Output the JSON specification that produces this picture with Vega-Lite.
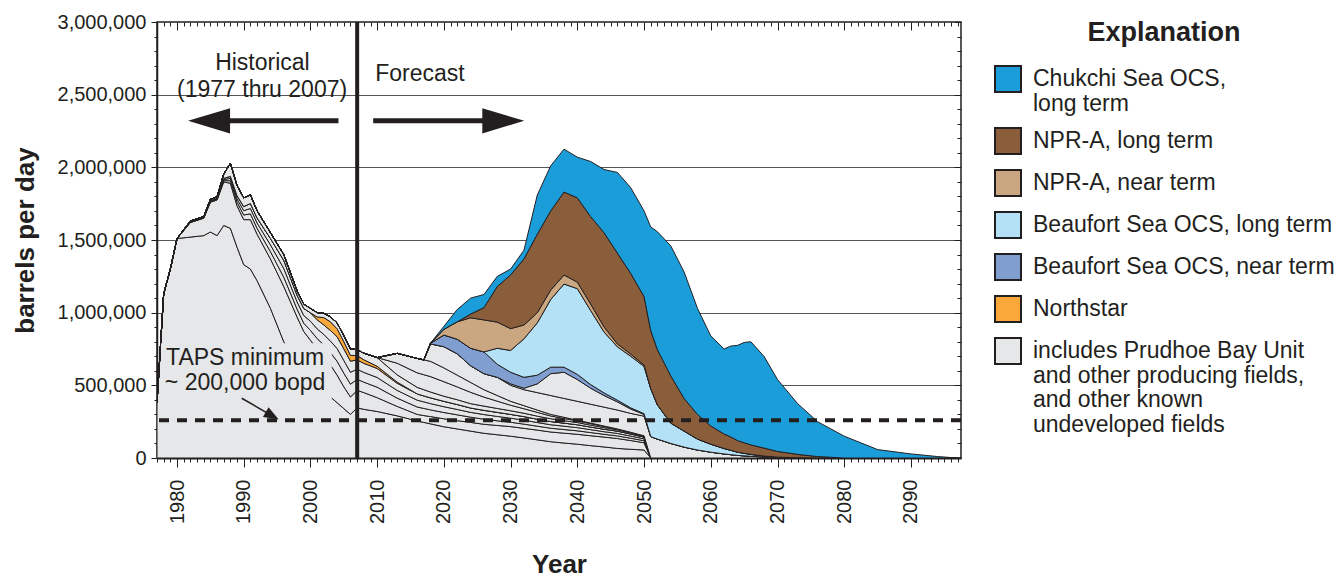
{
  "$schema": "https://vega.github.io/schema/vega-lite/v6.json",
  "width": 804,
  "height": 436,
  "autosize": {"type": "none"},
  "padding": {"left": 157, "top": 22, "right": 382, "bottom": 122},
  "background": "white",
  "config": {
    "view": {"stroke": "#231f20", "strokeWidth": 1.5},
    "font": "Liberation Sans",
    "axis": {"labelFont": "Liberation Sans", "titleFont": "Liberation Sans", "labelColor": "#231f20", "titleColor": "#231f20", "tickColor": "#231f20", "domainColor": "#231f20"}
  },
  "datasets": {
    "meta": [
      {"s": "pbu", "cat": "includes Prudhoe Bay Unit and other producing fields, and other known undeveloped fields", "ord": 1},
      {"s": "kup", "cat": "includes Prudhoe Bay Unit and other producing fields, and other known undeveloped fields", "ord": 2},
      {"s": "b1", "cat": "includes Prudhoe Bay Unit and other producing fields, and other known undeveloped fields", "ord": 3},
      {"s": "b2", "cat": "includes Prudhoe Bay Unit and other producing fields, and other known undeveloped fields", "ord": 4},
      {"s": "b3", "cat": "includes Prudhoe Bay Unit and other producing fields, and other known undeveloped fields", "ord": 5},
      {"s": "ns", "cat": "Northstar", "ord": 6},
      {"s": "f6", "cat": "includes Prudhoe Bay Unit and other producing fields, and other known undeveloped fields", "ord": 7},
      {"s": "n1", "cat": "includes Prudhoe Bay Unit and other producing fields, and other known undeveloped fields", "ord": 8},
      {"s": "n2", "cat": "includes Prudhoe Bay Unit and other producing fields, and other known undeveloped fields", "ord": 9},
      {"s": "u1", "cat": "includes Prudhoe Bay Unit and other producing fields, and other known undeveloped fields", "ord": 10},
      {"s": "u2", "cat": "includes Prudhoe Bay Unit and other producing fields, and other known undeveloped fields", "ord": 11},
      {"s": "bn", "cat": "Beaufort Sea OCS, near term", "ord": 12},
      {"s": "bl", "cat": "Beaufort Sea OCS, long term", "ord": 13},
      {"s": "nn", "cat": "NPR-A, near term", "ord": 14},
      {"s": "nl", "cat": "NPR-A, long term", "ord": 15},
      {"s": "cs", "cat": "Chukchi Sea OCS, long term", "ord": 16}
    ],
    "prod": [
      {"yr":1977,"s":"pbu","bpd":380000},{"yr":1978,"s":"pbu","bpd":1130000},{"yr":1979,"s":"pbu","bpd":1300000},{"yr":1980,"s":"pbu","bpd":1510000},{"yr":1982,"s":"pbu","bpd":1520000},{"yr":1984,"s":"pbu","bpd":1530000},{"yr":1985,"s":"pbu","bpd":1555000},{"yr":1986,"s":"pbu","bpd":1530000},{"yr":1987,"s":"pbu","bpd":1600000},{"yr":1988,"s":"pbu","bpd":1580000},{"yr":1989,"s":"pbu","bpd":1450000},{"yr":1990,"s":"pbu","bpd":1330000},{"yr":1991,"s":"pbu","bpd":1300000},{"yr":1992,"s":"pbu","bpd":1220000},{"yr":1994,"s":"pbu","bpd":1030000},{"yr":1996,"s":"pbu","bpd":800000},{"yr":1998,"s":"pbu","bpd":640000},{"yr":1999,"s":"pbu","bpd":570000},{"yr":2000,"s":"pbu","bpd":520000},{"yr":2001,"s":"pbu","bpd":480000},{"yr":2002,"s":"pbu","bpd":450000},{"yr":2003,"s":"pbu","bpd":420000},{"yr":2004,"s":"pbu","bpd":380000},{"yr":2005,"s":"pbu","bpd":340000},{"yr":2006,"s":"pbu","bpd":300000},{"yr":2007,"s":"pbu","bpd":345000},{"yr":2008,"s":"pbu","bpd":335000},{"yr":2010,"s":"pbu","bpd":320000},{"yr":2013,"s":"pbu","bpd":290000},{"yr":2016,"s":"pbu","bpd":255000},{"yr":2017,"s":"pbu","bpd":245000},{"yr":2018,"s":"pbu","bpd":235000},{"yr":2020,"s":"pbu","bpd":215000},{"yr":2022,"s":"pbu","bpd":200000},{"yr":2024,"s":"pbu","bpd":185000},{"yr":2026,"s":"pbu","bpd":170000},{"yr":2028,"s":"pbu","bpd":160000},{"yr":2030,"s":"pbu","bpd":150000},{"yr":2032,"s":"pbu","bpd":138000},{"yr":2034,"s":"pbu","bpd":125000},{"yr":2036,"s":"pbu","bpd":112000},{"yr":2038,"s":"pbu","bpd":103000},{"yr":2040,"s":"pbu","bpd":95000},{"yr":2042,"s":"pbu","bpd":85000},{"yr":2044,"s":"pbu","bpd":76000},{"yr":2046,"s":"pbu","bpd":66000},{"yr":2048,"s":"pbu","bpd":60000},{"yr":2050,"s":"pbu","bpd":55000},

      {"yr":1982,"s":"kup","bpd":100000},{"yr":1984,"s":"kup","bpd":120000},{"yr":1985,"s":"kup","bpd":205000},{"yr":1986,"s":"kup","bpd":245000},{"yr":1987,"s":"kup","bpd":300000},{"yr":1988,"s":"kup","bpd":310000},{"yr":1989,"s":"kup","bpd":285000},{"yr":1990,"s":"kup","bpd":310000},{"yr":1991,"s":"kup","bpd":340000},{"yr":1992,"s":"kup","bpd":320000},{"yr":1994,"s":"kup","bpd":340000},{"yr":1996,"s":"kup","bpd":380000},{"yr":1998,"s":"kup","bpd":330000},{"yr":1999,"s":"kup","bpd":300000},{"yr":2000,"s":"kup","bpd":290000},{"yr":2001,"s":"kup","bpd":270000},{"yr":2002,"s":"kup","bpd":250000},{"yr":2003,"s":"kup","bpd":220000},{"yr":2004,"s":"kup","bpd":190000},{"yr":2005,"s":"kup","bpd":150000},{"yr":2006,"s":"kup","bpd":120000},{"yr":2007,"s":"kup","bpd":120000},{"yr":2008,"s":"kup","bpd":115000},{"yr":2010,"s":"kup","bpd":95000},{"yr":2013,"s":"kup","bpd":65000},{"yr":2016,"s":"kup","bpd":45000},{"yr":2017,"s":"kup","bpd":47000},{"yr":2018,"s":"kup","bpd":50000},{"yr":2020,"s":"kup","bpd":55000},{"yr":2022,"s":"kup","bpd":57000},{"yr":2024,"s":"kup","bpd":60000},{"yr":2026,"s":"kup","bpd":62000},{"yr":2028,"s":"kup","bpd":64000},{"yr":2030,"s":"kup","bpd":66000},{"yr":2032,"s":"kup","bpd":66000},{"yr":2034,"s":"kup","bpd":67000},{"yr":2036,"s":"kup","bpd":67000},{"yr":2038,"s":"kup","bpd":68000},{"yr":2040,"s":"kup","bpd":68000},{"yr":2042,"s":"kup","bpd":68000},{"yr":2044,"s":"kup","bpd":68000},{"yr":2046,"s":"kup","bpd":68000},{"yr":2048,"s":"kup","bpd":60000},{"yr":2050,"s":"kup","bpd":50000},

      {"yr":1982,"s":"b1","bpd":2000},{"yr":1984,"s":"b1","bpd":2000},{"yr":1985,"s":"b1","bpd":4000},{"yr":1986,"s":"b1","bpd":4000},{"yr":1987,"s":"b1","bpd":8000},{"yr":1988,"s":"b1","bpd":18000},{"yr":1989,"s":"b1","bpd":25000},{"yr":1990,"s":"b1","bpd":32000},{"yr":1991,"s":"b1","bpd":40000},{"yr":1992,"s":"b1","bpd":40000},{"yr":1994,"s":"b1","bpd":50000},{"yr":1996,"s":"b1","bpd":64000},{"yr":1998,"s":"b1","bpd":54000},{"yr":1999,"s":"b1","bpd":57000},{"yr":2000,"s":"b1","bpd":68000},{"yr":2001,"s":"b1","bpd":72000},{"yr":2002,"s":"b1","bpd":78000},{"yr":2003,"s":"b1","bpd":85000},{"yr":2004,"s":"b1","bpd":95000},{"yr":2005,"s":"b1","bpd":94000},{"yr":2006,"s":"b1","bpd":88000},{"yr":2007,"s":"b1","bpd":76000},{"yr":2008,"s":"b1","bpd":72000},{"yr":2010,"s":"b1","bpd":72000},{"yr":2013,"s":"b1","bpd":57000},{"yr":2016,"s":"b1","bpd":51000},{"yr":2017,"s":"b1","bpd":49000},{"yr":2018,"s":"b1","bpd":46000},{"yr":2020,"s":"b1","bpd":43000},{"yr":2022,"s":"b1","bpd":40000},{"yr":2024,"s":"b1","bpd":36000},{"yr":2026,"s":"b1","bpd":35000},{"yr":2028,"s":"b1","bpd":32000},{"yr":2030,"s":"b1","bpd":30000},{"yr":2032,"s":"b1","bpd":29000},{"yr":2034,"s":"b1","bpd":27000},{"yr":2036,"s":"b1","bpd":26000},{"yr":2038,"s":"b1","bpd":25000},{"yr":2040,"s":"b1","bpd":24000},{"yr":2042,"s":"b1","bpd":22000},{"yr":2044,"s":"b1","bpd":19000},{"yr":2046,"s":"b1","bpd":18000},{"yr":2048,"s":"b1","bpd":16000},{"yr":2050,"s":"b1","bpd":14000},

      {"yr":1982,"s":"b2","bpd":2000},{"yr":1984,"s":"b2","bpd":2000},{"yr":1985,"s":"b2","bpd":4000},{"yr":1986,"s":"b2","bpd":4000},{"yr":1987,"s":"b2","bpd":8000},{"yr":1988,"s":"b2","bpd":16000},{"yr":1989,"s":"b2","bpd":23000},{"yr":1990,"s":"b2","bpd":30000},{"yr":1991,"s":"b2","bpd":37000},{"yr":1992,"s":"b2","bpd":37000},{"yr":1994,"s":"b2","bpd":47000},{"yr":1996,"s":"b2","bpd":60000},{"yr":1998,"s":"b2","bpd":50000},{"yr":1999,"s":"b2","bpd":53000},{"yr":2000,"s":"b2","bpd":63000},{"yr":2001,"s":"b2","bpd":67000},{"yr":2002,"s":"b2","bpd":72000},{"yr":2003,"s":"b2","bpd":79000},{"yr":2004,"s":"b2","bpd":88000},{"yr":2005,"s":"b2","bpd":87000},{"yr":2006,"s":"b2","bpd":82000},{"yr":2007,"s":"b2","bpd":70000},{"yr":2008,"s":"b2","bpd":67000},{"yr":2010,"s":"b2","bpd":67000},{"yr":2013,"s":"b2","bpd":53000},{"yr":2016,"s":"b2","bpd":47000},{"yr":2017,"s":"b2","bpd":45000},{"yr":2018,"s":"b2","bpd":43000},{"yr":2020,"s":"b2","bpd":40000},{"yr":2022,"s":"b2","bpd":37000},{"yr":2024,"s":"b2","bpd":33000},{"yr":2026,"s":"b2","bpd":32000},{"yr":2028,"s":"b2","bpd":30000},{"yr":2030,"s":"b2","bpd":28000},{"yr":2032,"s":"b2","bpd":27000},{"yr":2034,"s":"b2","bpd":25000},{"yr":2036,"s":"b2","bpd":24000},{"yr":2038,"s":"b2","bpd":23000},{"yr":2040,"s":"b2","bpd":22000},{"yr":2042,"s":"b2","bpd":20000},{"yr":2044,"s":"b2","bpd":18000},{"yr":2046,"s":"b2","bpd":17000},{"yr":2048,"s":"b2","bpd":15000},{"yr":2050,"s":"b2","bpd":13000},

      {"yr":1982,"s":"b3","bpd":2000},{"yr":1984,"s":"b3","bpd":2000},{"yr":1985,"s":"b3","bpd":4000},{"yr":1986,"s":"b3","bpd":4000},{"yr":1987,"s":"b3","bpd":8000},{"yr":1988,"s":"b3","bpd":14000},{"yr":1989,"s":"b3","bpd":21000},{"yr":1990,"s":"b3","bpd":28000},{"yr":1991,"s":"b3","bpd":34000},{"yr":1992,"s":"b3","bpd":34000},{"yr":1994,"s":"b3","bpd":44000},{"yr":1996,"s":"b3","bpd":56000},{"yr":1998,"s":"b3","bpd":46000},{"yr":1999,"s":"b3","bpd":49000},{"yr":2000,"s":"b3","bpd":58000},{"yr":2001,"s":"b3","bpd":62000},{"yr":2002,"s":"b3","bpd":66000},{"yr":2003,"s":"b3","bpd":73000},{"yr":2004,"s":"b3","bpd":81000},{"yr":2005,"s":"b3","bpd":80000},{"yr":2006,"s":"b3","bpd":76000},{"yr":2007,"s":"b3","bpd":64000},{"yr":2008,"s":"b3","bpd":62000},{"yr":2010,"s":"b3","bpd":62000},{"yr":2013,"s":"b3","bpd":49000},{"yr":2016,"s":"b3","bpd":43000},{"yr":2017,"s":"b3","bpd":41000},{"yr":2018,"s":"b3","bpd":40000},{"yr":2020,"s":"b3","bpd":37000},{"yr":2022,"s":"b3","bpd":34000},{"yr":2024,"s":"b3","bpd":30000},{"yr":2026,"s":"b3","bpd":29000},{"yr":2028,"s":"b3","bpd":28000},{"yr":2030,"s":"b3","bpd":26000},{"yr":2032,"s":"b3","bpd":25000},{"yr":2034,"s":"b3","bpd":23000},{"yr":2036,"s":"b3","bpd":22000},{"yr":2038,"s":"b3","bpd":21000},{"yr":2040,"s":"b3","bpd":20000},{"yr":2042,"s":"b3","bpd":18000},{"yr":2044,"s":"b3","bpd":17000},{"yr":2046,"s":"b3","bpd":16000},{"yr":2048,"s":"b3","bpd":14000},{"yr":2050,"s":"b3","bpd":12000},

      {"yr":2001,"s":"ns","bpd":20000},{"yr":2002,"s":"ns","bpd":50000},{"yr":2003,"s":"ns","bpd":60000},{"yr":2004,"s":"ns","bpd":55000},{"yr":2005,"s":"ns","bpd":50000},{"yr":2006,"s":"ns","bpd":40000},{"yr":2007,"s":"ns","bpd":30000},{"yr":2008,"s":"ns","bpd":25000},{"yr":2010,"s":"ns","bpd":15000},{"yr":2013,"s":"ns","bpd":8000},

      {"yr":1982,"s":"f6","bpd":5000},{"yr":1984,"s":"f6","bpd":5000},{"yr":1985,"s":"f6","bpd":8000},{"yr":1986,"s":"f6","bpd":10000},{"yr":1987,"s":"f6","bpd":30000},{"yr":1988,"s":"f6","bpd":90000},{"yr":1989,"s":"f6","bpd":70000},{"yr":1990,"s":"f6","bpd":60000},{"yr":1991,"s":"f6","bpd":60000},{"yr":1992,"s":"f6","bpd":50000},{"yr":1994,"s":"f6","bpd":40000},{"yr":1996,"s":"f6","bpd":40000},{"yr":1998,"s":"f6","bpd":30000},{"yr":1999,"s":"f6","bpd":30000},{"yr":2000,"s":"f6","bpd":30000},{"yr":2001,"s":"f6","bpd":30000},{"yr":2002,"s":"f6","bpd":30000},{"yr":2003,"s":"f6","bpd":35000},{"yr":2004,"s":"f6","bpd":40000},{"yr":2005,"s":"f6","bpd":40000},{"yr":2006,"s":"f6","bpd":45000},{"yr":2007,"s":"f6","bpd":40000},{"yr":2008,"s":"f6","bpd":45000},{"yr":2010,"s":"f6","bpd":60000},{"yr":2013,"s":"f6","bpd":50000},{"yr":2016,"s":"f6","bpd":45000},{"yr":2017,"s":"f6","bpd":43000},{"yr":2018,"s":"f6","bpd":40000},{"yr":2020,"s":"f6","bpd":35000},{"yr":2022,"s":"f6","bpd":33000},{"yr":2024,"s":"f6","bpd":30000},{"yr":2026,"s":"f6","bpd":29000},{"yr":2028,"s":"f6","bpd":27000},{"yr":2030,"s":"f6","bpd":25000},{"yr":2032,"s":"f6","bpd":23000},{"yr":2034,"s":"f6","bpd":21000},{"yr":2036,"s":"f6","bpd":19000},{"yr":2038,"s":"f6","bpd":17000},{"yr":2040,"s":"f6","bpd":15000},{"yr":2042,"s":"f6","bpd":13000},{"yr":2044,"s":"f6","bpd":11000},{"yr":2046,"s":"f6","bpd":9000},{"yr":2048,"s":"f6","bpd":7000},{"yr":2050,"s":"f6","bpd":5000},

      {"yr":2013,"s":"n1","bpd":80000},{"yr":2016,"s":"n1","bpd":100000},{"yr":2017,"s":"n1","bpd":103000},{"yr":2018,"s":"n1","bpd":106000},{"yr":2020,"s":"n1","bpd":100000},{"yr":2022,"s":"n1","bpd":88000},{"yr":2024,"s":"n1","bpd":78000},{"yr":2026,"s":"n1","bpd":62000},{"yr":2028,"s":"n1","bpd":50000},{"yr":2030,"s":"n1","bpd":38000},{"yr":2032,"s":"n1","bpd":31000},{"yr":2034,"s":"n1","bpd":26000},{"yr":2036,"s":"n1","bpd":19000},{"yr":2038,"s":"n1","bpd":15000},{"yr":2040,"s":"n1","bpd":11000},{"yr":2042,"s":"n1","bpd":10000},{"yr":2044,"s":"n1","bpd":8000},{"yr":2046,"s":"n1","bpd":5000},{"yr":2048,"s":"n1","bpd":4000},{"yr":2050,"s":"n1","bpd":3000},

      {"yr":2013,"s":"n2","bpd":68000},{"yr":2016,"s":"n2","bpd":99000},{"yr":2017,"s":"n2","bpd":102000},{"yr":2018,"s":"n2","bpd":105000},{"yr":2020,"s":"n2","bpd":95000},{"yr":2022,"s":"n2","bpd":81000},{"yr":2024,"s":"n2","bpd":68000},{"yr":2026,"s":"n2","bpd":51000},{"yr":2028,"s":"n2","bpd":39000},{"yr":2030,"s":"n2","bpd":27000},{"yr":2032,"s":"n2","bpd":21000},{"yr":2034,"s":"n2","bpd":16000},{"yr":2036,"s":"n2","bpd":11000},{"yr":2038,"s":"n2","bpd":8000},{"yr":2040,"s":"n2","bpd":5000},{"yr":2042,"s":"n2","bpd":4000},{"yr":2044,"s":"n2","bpd":3000},{"yr":2046,"s":"n2","bpd":1000},{"yr":2048,"s":"n2","bpd":1000},{"yr":2050,"s":"n2","bpd":1000},

      {"yr":2018,"s":"u1","bpd":120000},{"yr":2020,"s":"u1","bpd":146000},{"yr":2022,"s":"u1","bpd":147000},{"yr":2024,"s":"u1","bpd":115000},{"yr":2026,"s":"u1","bpd":110000},{"yr":2028,"s":"u1","bpd":125000},{"yr":2030,"s":"u1","bpd":110000},{"yr":2032,"s":"u1","bpd":110000},{"yr":2034,"s":"u1","bpd":120000},{"yr":2036,"s":"u1","bpd":130000},{"yr":2038,"s":"u1","bpd":130000},{"yr":2040,"s":"u1","bpd":130000},{"yr":2042,"s":"u1","bpd":130000},{"yr":2044,"s":"u1","bpd":130000},{"yr":2046,"s":"u1","bpd":130000},{"yr":2048,"s":"u1","bpd":130000},{"yr":2050,"s":"u1","bpd":135000},{"yr":2051,"s":"u1","bpd":147000},{"yr":2052,"s":"u1","bpd":130000},{"yr":2054,"s":"u1","bpd":100000},{"yr":2056,"s":"u1","bpd":75000},{"yr":2058,"s":"u1","bpd":55000},{"yr":2060,"s":"u1","bpd":40000},{"yr":2062,"s":"u1","bpd":28000},{"yr":2063,"s":"u1","bpd":23000},{"yr":2064,"s":"u1","bpd":18000},{"yr":2065,"s":"u1","bpd":15000},{"yr":2066,"s":"u1","bpd":12000},{"yr":2068,"s":"u1","bpd":7000},{"yr":2070,"s":"u1","bpd":4000},{"yr":2073,"s":"u1","bpd":2000},

      {"yr":2030,"s":"u2","bpd":10000},{"yr":2032,"s":"u2","bpd":10000},{"yr":2034,"s":"u2","bpd":60000},{"yr":2036,"s":"u2","bpd":150000},{"yr":2038,"s":"u2","bpd":180000},{"yr":2040,"s":"u2","bpd":150000},{"yr":2042,"s":"u2","bpd":110000},{"yr":2044,"s":"u2","bpd":80000},{"yr":2046,"s":"u2","bpd":56000},{"yr":2048,"s":"u2","bpd":30000},{"yr":2050,"s":"u2","bpd":12000},

      {"yr":2018,"s":"bn","bpd":5000},{"yr":2020,"s":"bn","bpd":80000},{"yr":2022,"s":"bn","bpd":100000},{"yr":2024,"s":"bn","bpd":120000},{"yr":2026,"s":"bn","bpd":150000},{"yr":2028,"s":"bn","bpd":90000},{"yr":2030,"s":"bn","bpd":80000},{"yr":2032,"s":"bn","bpd":75000},{"yr":2034,"s":"bn","bpd":60000},{"yr":2036,"s":"bn","bpd":45000},{"yr":2038,"s":"bn","bpd":35000},{"yr":2040,"s":"bn","bpd":35000},{"yr":2042,"s":"bn","bpd":25000},{"yr":2044,"s":"bn","bpd":18000},{"yr":2046,"s":"bn","bpd":12000},{"yr":2048,"s":"bn","bpd":8000},{"yr":2050,"s":"bn","bpd":5000},

      {"yr":2028,"s":"bl","bpd":110000},{"yr":2030,"s":"bl","bpd":150000},{"yr":2032,"s":"bl","bpd":265000},{"yr":2034,"s":"bl","bpd":360000},{"yr":2036,"s":"bl","bpd":465000},{"yr":2038,"s":"bl","bpd":572000},{"yr":2040,"s":"bl","bpd":590000},{"yr":2042,"s":"bl","bpd":509000},{"yr":2044,"s":"bl","bpd":419000},{"yr":2046,"s":"bl","bpd":367000},{"yr":2048,"s":"bl","bpd":355000},{"yr":2050,"s":"bl","bpd":325000},{"yr":2051,"s":"bl","bpd":330000},{"yr":2052,"s":"bl","bpd":235000},{"yr":2054,"s":"bl","bpd":140000},{"yr":2056,"s":"bl","bpd":110000},{"yr":2058,"s":"bl","bpd":75000},{"yr":2060,"s":"bl","bpd":55000},{"yr":2062,"s":"bl","bpd":37000},{"yr":2063,"s":"bl","bpd":30000},{"yr":2064,"s":"bl","bpd":22000},{"yr":2065,"s":"bl","bpd":17000},{"yr":2066,"s":"bl","bpd":13000},{"yr":2068,"s":"bl","bpd":6000},{"yr":2070,"s":"bl","bpd":2000},

      {"yr":2020,"s":"nn","bpd":40000},{"yr":2022,"s":"nn","bpd":120000},{"yr":2024,"s":"nn","bpd":210000},{"yr":2026,"s":"nn","bpd":220000},{"yr":2028,"s":"nn","bpd":180000},{"yr":2030,"s":"nn","bpd":150000},{"yr":2032,"s":"nn","bpd":95000},{"yr":2034,"s":"nn","bpd":70000},{"yr":2036,"s":"nn","bpd":65000},{"yr":2038,"s":"nn","bpd":62000},{"yr":2040,"s":"nn","bpd":45000},{"yr":2042,"s":"nn","bpd":45000},{"yr":2044,"s":"nn","bpd":35000},{"yr":2046,"s":"nn","bpd":20000},{"yr":2048,"s":"nn","bpd":15000},{"yr":2050,"s":"nn","bpd":10000},

      {"yr":2024,"s":"nl","bpd":25000},{"yr":2026,"s":"nl","bpd":85000},{"yr":2028,"s":"nl","bpd":245000},{"yr":2030,"s":"nl","bpd":370000},{"yr":2032,"s":"nl","bpd":455000},{"yr":2034,"s":"nl","bpd":540000},{"yr":2036,"s":"nl","bpd":545000},{"yr":2038,"s":"nl","bpd":571000},{"yr":2040,"s":"nl","bpd":580000},{"yr":2042,"s":"nl","bpd":601000},{"yr":2044,"s":"nl","bpd":648000},{"yr":2046,"s":"nl","bpd":625000},{"yr":2048,"s":"nl","bpd":555000},{"yr":2050,"s":"nl","bpd":470000},{"yr":2051,"s":"nl","bpd":400000},{"yr":2052,"s":"nl","bpd":380000},{"yr":2054,"s":"nl","bpd":325000},{"yr":2056,"s":"nl","bpd":225000},{"yr":2058,"s":"nl","bpd":170000},{"yr":2060,"s":"nl","bpd":125000},{"yr":2062,"s":"nl","bpd":100000},{"yr":2063,"s":"nl","bpd":92000},{"yr":2064,"s":"nl","bpd":80000},{"yr":2065,"s":"nl","bpd":73000},{"yr":2066,"s":"nl","bpd":65000},{"yr":2068,"s":"nl","bpd":55000},{"yr":2070,"s":"nl","bpd":39000},{"yr":2073,"s":"nl","bpd":23000},{"yr":2076,"s":"nl","bpd":10000},

      {"yr":2020,"s":"cs","bpd":20000},{"yr":2022,"s":"cs","bpd":85000},{"yr":2024,"s":"cs","bpd":110000},{"yr":2026,"s":"cs","bpd":90000},{"yr":2028,"s":"cs","bpd":70000},{"yr":2030,"s":"cs","bpd":40000},{"yr":2032,"s":"cs","bpd":60000},{"yr":2034,"s":"cs","bpd":270000},{"yr":2036,"s":"cs","bpd":310000},{"yr":2038,"s":"cs","bpd":295000},{"yr":2040,"s":"cs","bpd":280000},{"yr":2042,"s":"cs","bpd":380000},{"yr":2044,"s":"cs","bpd":435000},{"yr":2046,"s":"cs","bpd":555000},{"yr":2048,"s":"cs","bpd":590000},{"yr":2050,"s":"cs","bpd":590000},{"yr":2051,"s":"cs","bpd":713000},{"yr":2052,"s":"cs","bpd":812000},{"yr":2054,"s":"cs","bpd":895000},{"yr":2056,"s":"cs","bpd":870000},{"yr":2058,"s":"cs","bpd":730000},{"yr":2060,"s":"cs","bpd":620000},{"yr":2062,"s":"cs","bpd":585000},{"yr":2063,"s":"cs","bpd":625000},{"yr":2064,"s":"cs","bpd":655000},{"yr":2065,"s":"cs","bpd":690000},{"yr":2066,"s":"cs","bpd":710000},{"yr":2068,"s":"cs","bpd":630000},{"yr":2070,"s":"cs","bpd":495000},{"yr":2073,"s":"cs","bpd":350000},{"yr":2076,"s":"cs","bpd":240000},{"yr":2080,"s":"cs","bpd":150000},{"yr":2085,"s":"cs","bpd":58000},{"yr":2090,"s":"cs","bpd":28000},{"yr":2094,"s":"cs","bpd":10000},{"yr":2097,"s":"cs","bpd":0}
    ]
  },
  "resolve": {"axis": {"x": "independent", "y": "independent"}},
  "layer": [
    {
      "data": {"name": "prod"},
      "transform": [{"lookup": "s", "from": {"data": {"name": "meta"}, "key": "s", "fields": ["cat", "ord"]}}],
      "mark": {"type": "area", "stroke": "#231f20", "strokeWidth": 1, "strokeJoin": "round", "clip": true},
      "encoding": {
        "x": {
          "field": "yr", "type": "quantitative",
          "scale": {"domain": [1977, 2097.5], "nice": false, "zero": false},
          "axis": {
            "orient": "bottom",
            "values": [1977,1978,1979,1980,1981,1982,1983,1984,1985,1986,1987,1988,1989,1990,1991,1992,1993,1994,1995,1996,1997,1998,1999,2000,2001,2002,2003,2004,2005,2006,2007,2008,2009,2010,2011,2012,2013,2014,2015,2016,2017,2018,2019,2020,2021,2022,2023,2024,2025,2026,2027,2028,2029,2030,2031,2032,2033,2034,2035,2036,2037,2038,2039,2040,2041,2042,2043,2044,2045,2046,2047,2048,2049,2050,2051,2052,2053,2054,2055,2056,2057,2058,2059,2060,2061,2062,2063,2064,2065,2066,2067,2068,2069,2070,2071,2072,2073,2074,2075,2076,2077,2078,2079,2080,2081,2082,2083,2084,2085,2086,2087,2088,2089,2090,2091,2092,2093,2094,2095,2096,2097],
            "format": "d",
            "labelExpr": "datum.value % 10 == 0 ? datum.label : ''",
            "labelAngle": -90,
            "labelFontSize": 20,
            "labelPadding": 12,
            "labelOverlap": false,
            "labelFlush": false,
            "tickSize": {"condition": {"test": "datum.value % 10 == 0", "value": 9}, "value": 4},
            "tickWidth": 1,
            "grid": false,
            "domainWidth": 2,
            "title": "Year",
            "titleFontSize": 26,
            "titleFontWeight": "bold",
            "titlePadding": 28
          }
        },
        "y": {
          "field": "bpd", "type": "quantitative", "stack": "zero",
          "scale": {"domain": [0, 3000000], "nice": false},
          "axis": {
            "orient": "left",
            "values": [0,100000,200000,300000,400000,500000,600000,700000,800000,900000,1000000,1100000,1200000,1300000,1400000,1500000,1600000,1700000,1800000,1900000,2000000,2100000,2200000,2300000,2400000,2500000,2600000,2700000,2800000,2900000,3000000],
            "format": ",d",
            "labelExpr": "datum.value % 500000 == 0 ? datum.label : ''",
            "labelFontSize": 20,
            "labelPadding": 5,
            "labelOverlap": false,
            "labelFlush": false,
            "tickSize": {"condition": {"test": "datum.value % 500000 == 0", "value": 6}, "value": 3},
            "tickWidth": 1,
            "grid": true,
            "gridColor": "#555555",
            "gridWidth": 1,
            "gridOpacity": {"condition": {"test": "datum.value % 500000 == 0", "value": 1}, "value": 0},
            "domainWidth": 1.5,
            "title": "barrels per day",
            "titleFontSize": 26,
            "titleFontWeight": "bold",
            "titlePadding": 19
          }
        },
        "color": {
          "field": "cat", "type": "nominal",
          "scale": {
            "domain": ["Chukchi Sea OCS, long term", "NPR-A, long term", "NPR-A, near term", "Beaufort Sea OCS, long term", "Beaufort Sea OCS, near term", "Northstar", "includes Prudhoe Bay Unit and other producing fields, and other known undeveloped fields"],
            "range": ["#1a9dd9", "#8a5d3b", "#cba781", "#b4e1f6", "#809fd0", "#f9a93a", "#e6e7e8"]
          },
          "legend": {
            "orient": "none",
            "legendX": 837,
            "legendY": -2,
            "direction": "vertical",
            "padding": 0,
            "title": "Explanation",
            "titleFont": "Liberation Sans",
            "titleFontSize": 27,
            "titleFontWeight": "bold",
            "titleColor": "#231f20",
            "titleAnchor": "middle",
            "titlePadding": 18,
            "symbolType": "square",
            "symbolSize": 676,
            "symbolStrokeColor": "#231f20",
            "symbolStrokeWidth": 2,
            "symbolOpacity": 1,
            "labelFont": "Liberation Sans",
            "labelFontSize": 23,
            "labelColor": "#231f20",
            "labelLimit": 420,
            "labelOffset": 11,
            "labelBaseline": "top",
            "rowPadding": 8,
            "labelExpr": "datum.label == 'Chukchi Sea OCS, long term' ? ['Chukchi Sea OCS,', 'long term'] : datum.label == 'includes Prudhoe Bay Unit and other producing fields, and other known undeveloped fields' ? ['includes Prudhoe Bay Unit', 'and other producing fields,', 'and other known', 'undeveloped fields'] : datum.label",
            "encode": {"labels": {"update": {"dy": {"value": -11}, "lineHeight": {"value": 24.5}}}}
          }
        },
        "detail": {"field": "s"},
        "order": {"field": "ord", "type": "quantitative"}
      }
    },
    {
      "data": {"values": [{"x1": 1977.6, "x2": 2003.2, "y1": 390000, "y2": 790000}]},
      "mark": {"type": "rect", "fill": "#e6e7e8", "strokeWidth": 0},
      "encoding": {
        "x": {"field": "x1", "type": "quantitative", "axis": null},
        "x2": {"field": "x2"},
        "y": {"field": "y1", "type": "quantitative", "axis": null},
        "y2": {"field": "y2"}
      }
    },
    {
      "data": {"values": [{"bpd": 260000}]},
      "mark": {"type": "rule", "color": "#231f20", "strokeWidth": 4, "strokeDash": [10, 8]},
      "encoding": {
        "y": {
          "field": "bpd", "type": "quantitative",
          "axis": {
            "orient": "right",
            "values": [0,100000,200000,300000,400000,500000,600000,700000,800000,900000,1000000,1100000,1200000,1300000,1400000,1500000,1600000,1700000,1800000,1900000,2000000,2100000,2200000,2300000,2400000,2500000,2600000,2700000,2800000,2900000,3000000],
            "labels": false, "domain": false, "grid": false, "title": null,
            "tickSize": {"condition": {"test": "datum.value % 500000 == 0", "value": -7}, "value": -4},
            "tickWidth": 1
          }
        }
      }
    },
    {
      "data": {"values": [{"yr": 2007}]},
      "mark": {"type": "rule", "color": "#231f20", "strokeWidth": 4},
      "encoding": {
        "x": {
          "field": "yr", "type": "quantitative",
          "axis": {
            "orient": "top",
            "values": [1977,1978,1979,1980,1981,1982,1983,1984,1985,1986,1987,1988,1989,1990,1991,1992,1993,1994,1995,1996,1997,1998,1999,2000,2001,2002,2003,2004,2005,2006,2007,2008,2009,2010,2011,2012,2013,2014,2015,2016,2017,2018,2019,2020,2021,2022,2023,2024,2025,2026,2027,2028,2029,2030,2031,2032,2033,2034,2035,2036,2037,2038,2039,2040,2041,2042,2043,2044,2045,2046,2047,2048,2049,2050,2051,2052,2053,2054,2055,2056,2057,2058,2059,2060,2061,2062,2063,2064,2065,2066,2067,2068,2069,2070,2071,2072,2073,2074,2075,2076,2077,2078,2079,2080,2081,2082,2083,2084,2085,2086,2087,2088,2089,2090,2091,2092,2093,2094,2095,2096,2097],
            "labels": false, "domain": false, "grid": false, "title": null,
            "tickSize": {"condition": {"test": "datum.value % 10 == 0", "value": -8}, "value": -4},
            "tickWidth": 1
          }
        }
      }
    },
    {
      "data": {"values": [
        {"yr": 1992.8, "bpd": 2716000, "t": "Historical"},
        {"yr": 1992.75, "bpd": 2532000, "t": "(1977 thru 2007)"},
        {"yr": 2016.4, "bpd": 2642000, "t": "Forecast"},
        {"yr": 1990.2, "bpd": 686000, "t": "TAPS minimum"},
        {"yr": 1990.2, "bpd": 514000, "t": "~ 200,000 bopd"}
      ]},
      "mark": {"type": "text", "font": "Liberation Sans", "fontSize": 23, "color": "#231f20", "align": "center", "baseline": "middle"},
      "encoding": {
        "x": {"field": "yr", "type": "quantitative", "axis": null},
        "y": {"field": "bpd", "type": "quantitative", "axis": null},
        "text": {"field": "t"}
      }
    },
    {
      "data": {"values": [
        {"x1": 1987.5, "x2": 2004.2, "b": 2320000},
        {"x1": 2009.4, "x2": 2026.3, "b": 2320000}
      ]},
      "mark": {"type": "rule", "color": "#231f20", "strokeWidth": 5},
      "encoding": {
        "x": {"field": "x1", "type": "quantitative", "axis": null},
        "x2": {"field": "x2"},
        "y": {"field": "b", "type": "quantitative", "axis": null}
      }
    },
    {
      "data": {"values": [{"yr": 1984.8, "b": 2320000}]},
      "mark": {"type": "point", "shape": "M-1,0L1,-0.6L1,0.6Z", "size": 1764, "filled": true, "color": "#231f20", "opacity": 1, "strokeWidth": 0},
      "encoding": {
        "x": {"field": "yr", "type": "quantitative", "axis": null},
        "y": {"field": "b", "type": "quantitative", "axis": null}
      }
    },
    {
      "data": {"values": [{"yr": 2028.9, "b": 2320000}]},
      "mark": {"type": "point", "shape": "M1,0L-1,-0.6L-1,0.6Z", "size": 1764, "filled": true, "color": "#231f20", "opacity": 1, "strokeWidth": 0},
      "encoding": {
        "x": {"field": "yr", "type": "quantitative", "axis": null},
        "y": {"field": "b", "type": "quantitative", "axis": null}
      }
    },
    {
      "data": {"values": [{"x1": 1989.7, "y1": 411000, "x2": 1994.2, "y2": 292000}]},
      "mark": {"type": "rule", "color": "#231f20", "strokeWidth": 1.5},
      "encoding": {
        "x": {"field": "x1", "type": "quantitative", "axis": null},
        "y": {"field": "y1", "type": "quantitative", "axis": null},
        "x2": {"field": "x2"},
        "y2": {"field": "y2"}
      }
    },
    {
      "data": {"values": [{"yr": 1994.27, "b": 290000}]},
      "mark": {"type": "point", "shape": "M1,0L-1,-0.75L-1,0.75Z", "size": 225, "angle": 30, "filled": true, "color": "#231f20", "opacity": 1, "strokeWidth": 0},
      "encoding": {
        "x": {"field": "yr", "type": "quantitative", "axis": null},
        "y": {"field": "b", "type": "quantitative", "axis": null}
      }
    }
  ]
}
